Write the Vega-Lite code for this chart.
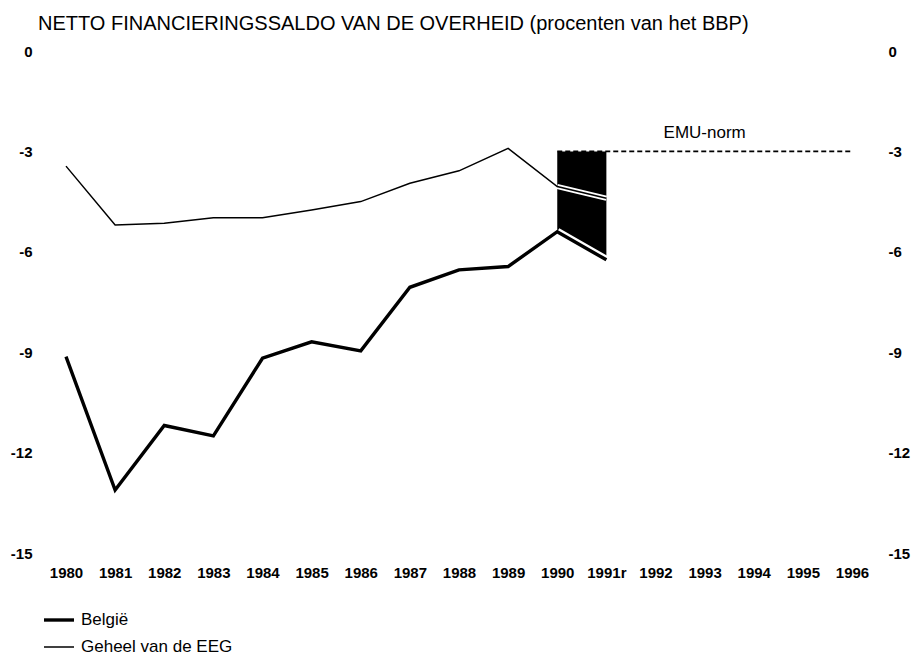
{
  "$schema": "https://vega.github.io/schema/vega-lite/v6.json",
  "autosize": "none",
  "width": 786,
  "height": 502,
  "padding": {"left": 66, "top": 51, "right": 61, "bottom": 105},
  "background": "white",
  "config": {
    "view": {"stroke": null},
    "font": "Liberation Sans",
    "axis": {"labelFont": "Liberation Sans", "labelColor": "black", "labelFontSize": 15, "labelFontWeight": "bold", "domain": false, "ticks": false, "grid": false, "title": null},
    "legend": {"labelFont": "Liberation Sans", "labelColor": "black", "labelFontSize": 17, "labelLimit": 400}
  },
  "title": {
    "text": "NETTO FINANCIERINGSSALDO VAN DE OVERHEID (procenten van het BBP)",
    "anchor": "start",
    "frame": "group",
    "fontSize": 20,
    "fontWeight": "normal",
    "font": "Liberation Sans",
    "color": "black",
    "dx": -28,
    "offset": 10
  },
  "datasets": {
    "reeksen": [
      {"jaar": 1980, "reeks": "België", "waarde": -9.13},
      {"jaar": 1981, "reeks": "België", "waarde": -13.12},
      {"jaar": 1982, "reeks": "België", "waarde": -11.19},
      {"jaar": 1983, "reeks": "België", "waarde": -11.5},
      {"jaar": 1984, "reeks": "België", "waarde": -9.18},
      {"jaar": 1985, "reeks": "België", "waarde": -8.69},
      {"jaar": 1986, "reeks": "België", "waarde": -8.96},
      {"jaar": 1987, "reeks": "België", "waarde": -7.06},
      {"jaar": 1988, "reeks": "België", "waarde": -6.54},
      {"jaar": 1989, "reeks": "België", "waarde": -6.44},
      {"jaar": 1990, "reeks": "België", "waarde": -5.4},
      {"jaar": 1991, "reeks": "België", "waarde": -6.24},
      {"jaar": 1980, "reeks": "Geheel van de EEG", "waarde": -3.44},
      {"jaar": 1981, "reeks": "Geheel van de EEG", "waarde": -5.2},
      {"jaar": 1982, "reeks": "Geheel van de EEG", "waarde": -5.15},
      {"jaar": 1983, "reeks": "Geheel van de EEG", "waarde": -4.98},
      {"jaar": 1984, "reeks": "Geheel van de EEG", "waarde": -4.98},
      {"jaar": 1985, "reeks": "Geheel van de EEG", "waarde": -4.75},
      {"jaar": 1986, "reeks": "Geheel van de EEG", "waarde": -4.5},
      {"jaar": 1987, "reeks": "Geheel van de EEG", "waarde": -3.95},
      {"jaar": 1988, "reeks": "Geheel van de EEG", "waarde": -3.58},
      {"jaar": 1989, "reeks": "Geheel van de EEG", "waarde": -2.91},
      {"jaar": 1990, "reeks": "Geheel van de EEG", "waarde": -4.05},
      {"jaar": 1991, "reeks": "Geheel van de EEG", "waarde": -4.4}
    ],
    "norm": [
      {"van": 1990, "tot": 1996, "waarde": -3, "label": "EMU-norm", "labeljaar": 1993}
    ]
  },
  "resolve": {"axis": {"y": "independent"}},
  "layer": [
    {
      "data": {"name": "reeksen"},
      "transform": [{"filter": "datum.reeks == 'België' && datum.jaar >= 1990"}],
      "mark": {"type": "area", "color": "black", "opacity": 1},
      "encoding": {
        "x": {"field": "jaar", "type": "quantitative", "scale": {"domain": [1980, 1996], "nice": false, "zero": false},
              "axis": {"values": [1980,1981,1982,1983,1984,1985,1986,1987,1988,1989,1990,1991,1992,1993,1994,1995,1996], "format": "d", "labelExpr": "datum.value == 1991 ? '1991r' : datum.label", "labelPadding": 12, "labelFlush": false, "labelOverlap": false}},
        "y": {"field": "waarde", "type": "quantitative", "scale": {"domain": [-15, 0], "nice": false, "zero": false},
              "axis": {"orient": "left", "values": [0, -3, -6, -9, -12, -15], "labelExpr": "datum.value + ''", "labelPadding": 34, "labelFlush": false}},
        "y2": {"datum": -3}
      }
    },
    {
      "data": {"name": "reeksen"},
      "transform": [{"filter": "datum.reeks == 'België' && datum.jaar >= 1990"}],
      "mark": {"type": "line", "color": "white", "strokeWidth": 8, "strokeCap": "butt"},
      "encoding": {
        "x": {"field": "jaar", "type": "quantitative"},
        "y": {"field": "waarde", "type": "quantitative", "axis": null}
      }
    },
    {
      "data": {"name": "reeksen"},
      "transform": [{"filter": "datum.reeks == 'Geheel van de EEG' && datum.jaar >= 1990"}],
      "mark": {"type": "line", "color": "white", "strokeWidth": 5, "strokeCap": "butt"},
      "encoding": {
        "x": {"field": "jaar", "type": "quantitative"},
        "y": {"field": "waarde", "type": "quantitative", "axis": null}
      }
    },
    {
      "data": {"name": "reeksen"},
      "mark": {"type": "line", "color": "black", "strokeJoin": "miter"},
      "encoding": {
        "x": {"field": "jaar", "type": "quantitative"},
        "y": {"field": "waarde", "type": "quantitative", "axis": null},
        "strokeWidth": {"field": "reeks", "type": "nominal", "scale": {"domain": ["België", "Geheel van de EEG"], "range": [3.4, 1.5]},
          "legend": {"title": null, "orient": "none", "legendX": -24, "legendY": 552, "symbolType": "stroke", "symbolSize": 900, "symbolStrokeColor": "black", "labelOffset": 5, "rowPadding": 3, "labelLimit": 400}}
      }
    },
    {
      "data": {"name": "norm"},
      "mark": {"type": "rule", "color": "black", "strokeDash": [5, 3], "strokeWidth": 1.6},
      "encoding": {
        "x": {"field": "van", "type": "quantitative"},
        "x2": {"field": "tot"},
        "y": {"field": "waarde", "type": "quantitative", "axis": {"orient": "right", "values": [0, -3, -6, -9, -12, -15], "labelExpr": "datum.value + ''", "labelPadding": 36, "labelAlign": "left", "labelFlush": false}}
      }
    },
    {
      "data": {"name": "norm"},
      "mark": {"type": "text", "color": "black", "fontSize": 17, "font": "Liberation Sans", "dy": -18, "baseline": "middle"},
      "encoding": {
        "x": {"field": "labeljaar", "type": "quantitative"},
        "y": {"field": "waarde", "type": "quantitative", "axis": null},
        "text": {"field": "label"}
      }
    }
  ]
}
